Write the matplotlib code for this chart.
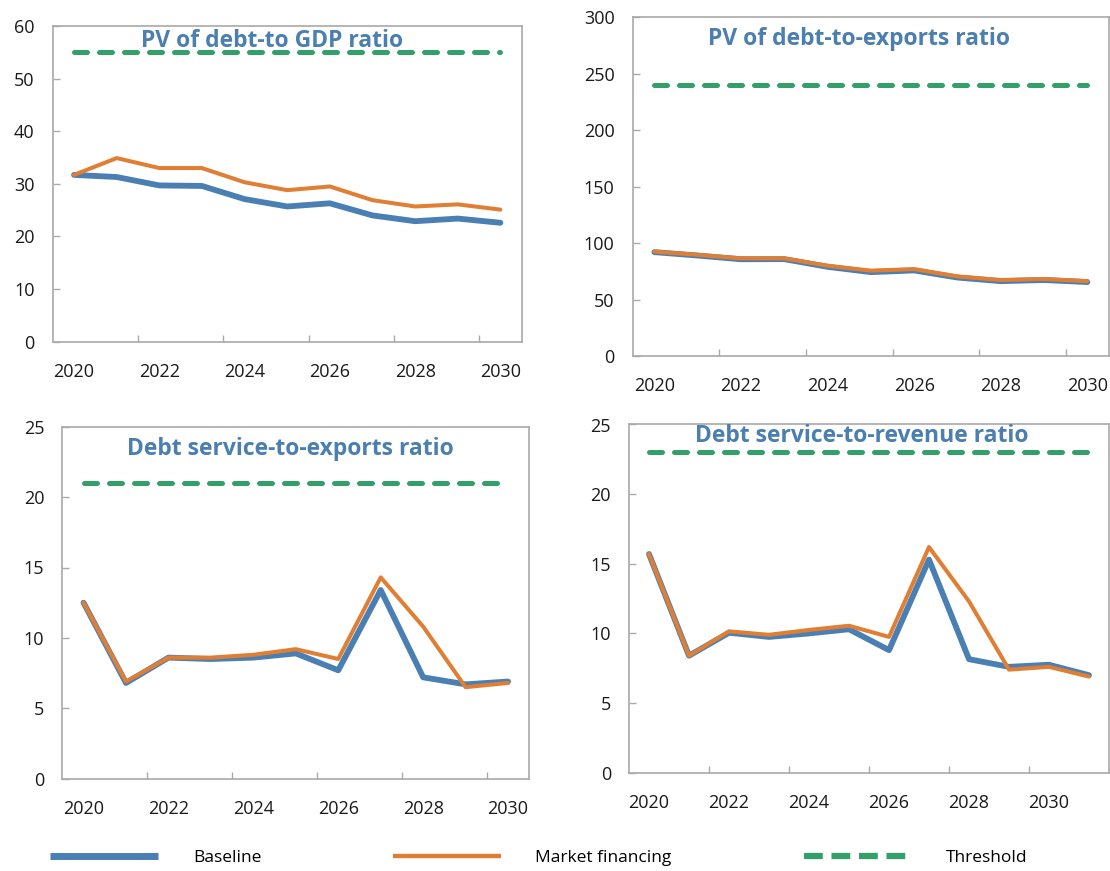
import numpy as np
import matplotlib
matplotlib.use("Agg")
import matplotlib.pyplot as plt
from matplotlib.lines import Line2D

# ---------------- data ----------------
years = [2020, 2021, 2022, 2023, 2024, 2025, 2026, 2027, 2028, 2029, 2030]
years_rev = [2020, 2021, 2022, 2023, 2024, 2025, 2026, 2027, 2028, 2029, 2030, 2031]

gdp_baseline = [31.7, 31.3, 29.7, 29.6, 27.1, 25.7, 26.3, 24.0, 22.9, 23.4, 22.6]
gdp_market = [31.7, 34.9, 33.0, 33.0, 30.3, 28.8, 29.5, 26.9, 25.7, 26.1, 25.1]
gdp_threshold = 55

exp_baseline = [92.0, 89.0, 85.7, 85.8, 79.0, 74.3, 75.8, 69.5, 66.3, 67.3, 65.5]
exp_market = [92.5, 89.6, 86.5, 86.5, 80.0, 75.6, 77.0, 70.5, 67.3, 68.2, 66.3]
exp_threshold = 240

dse_baseline = [12.5, 6.8, 8.6, 8.5, 8.6, 8.9, 7.7, 13.4, 7.2, 6.7, 6.9]
dse_market = [12.5, 6.9, 8.6, 8.6, 8.8, 9.2, 8.5, 14.3, 10.8, 6.5, 6.8]
dse_threshold = 21

dsr_baseline = [15.7, 8.4, 10.05, 9.75, 10.0, 10.3, 8.8, 15.3, 8.15, 7.6, 7.75, 7.0]
dsr_market = [15.7, 8.4, 10.15, 9.9, 10.25, 10.55, 9.75, 16.2, 12.3, 7.4, 7.6, 6.9]
dsr_threshold = 23

titles = ["PV of debt-to GDP ratio", "PV of debt-to-exports ratio",
          "Debt service-to-exports ratio", "Debt service-to-revenue ratio"]
legend_labels = ["Baseline", "Market financing", "Threshold"]

# ---------------- style ----------------
BLUE = "#4a7fb3"
ORANGE = "#e07f33"
GREEN = "#32a068"
TITLE_C = "#4a7fb0"
SPINE = "#a9a9a9"

plt.rcParams['font.family'] = ['Open Sans', 'DejaVu Sans']

W, H = 1110, 871
fig = plt.figure(figsize=(W / 100, H / 100), dpi=100)

def add_ax(L, R, T, B):
    return fig.add_axes([L / W, (H - B) / H, (R - L) / W, (B - T) / H])

panels = [
    dict(box=(52.7, 521.7, 26, 341.7), yrs=years, base=gdp_baseline, mkt=gdp_market,
         thr=gdp_threshold, ylim=(0, 60), ystep=10, title=titles[0], tpos=(0.468, 0.953)),
    dict(box=(632.7, 1109, 17.3, 356), yrs=years, base=exp_baseline, mkt=exp_market,
         thr=exp_threshold, ylim=(0, 300), ystep=50, title=titles[1], tpos=(0.475, 0.937)),
    dict(box=(62.3, 529.3, 426.7, 778.7), yrs=years, base=dse_baseline, mkt=dse_market,
         thr=dse_threshold, ylim=(0, 25), ystep=5, title=titles[2], tpos=(0.488, 0.937)),
    dict(box=(629, 1109, 424.5, 772.7), yrs=years_rev, base=dsr_baseline, mkt=dsr_market,
         thr=dsr_threshold, ylim=(0, 25), ystep=5, title=titles[3], tpos=(0.485, 0.966)),
]

for p in panels:
    ax = add_ax(*p["box"])
    n = len(p["yrs"])
    x = np.arange(n)
    ax.plot(x, p["base"], color=BLUE, lw=4.2, solid_capstyle="round",
            solid_joinstyle="round", zorder=3)
    ax.plot(x, p["mkt"], color=ORANGE, lw=2.9, solid_capstyle="round",
            solid_joinstyle="round", zorder=4)
    ax.plot(x, [p["thr"]] * n, color=GREEN, lw=3.6, ls=(0, (2.6, 2.4)),
            dash_capstyle="round", zorder=2)
    ax.set_xlim(-0.5, n - 0.5)
    ax.set_ylim(*p["ylim"])
    ax.set_yticks(np.arange(p["ylim"][0], p["ylim"][1] + 0.1, p["ystep"]))
    ax.set_xticks(x[::2])
    ax.set_xticklabels([str(y) for y in p["yrs"][::2]])
    ax.set_xticks(np.arange(1.5, 10, 2), minor=True)
    ax.tick_params(axis="x", which="major", length=0, pad=15, labelsize=13,
                   labelcolor="#1a1a1a")
    ax.tick_params(axis="x", which="minor", length=5, width=1, direction="in",
                   color=SPINE)
    ax.tick_params(axis="y", which="major", length=5, width=1, direction="in",
                   color=SPINE, pad=13, labelsize=13, labelcolor="#1a1a1a")
    for s in ax.spines.values():
        s.set_color(SPINE)
        s.set_linewidth(1.2)
    ax.text(p["tpos"][0], p["tpos"][1], p["title"], transform=ax.transAxes,
            ha="center", va="center", fontsize=16.5, fontweight="bold",
            color=TITLE_C, zorder=5)

handles = [
    Line2D([], [], color=BLUE, lw=5.0, solid_capstyle="butt"),
    Line2D([], [], color=ORANGE, lw=3.2, solid_capstyle="butt"),
    Line2D([], [], color=GREEN, lw=4.5, ls=(0, (3.0, 1.4)), dash_capstyle="butt"),
]
fig.legend(handles, legend_labels, loc="center", bbox_to_anchor=(539 / W, 13 / H),
           ncol=3, frameon=False, fontsize=12.5, handlelength=6.2,
           handletextpad=2.0, columnspacing=7.6)

fig.savefig("out.png", dpi=100)
